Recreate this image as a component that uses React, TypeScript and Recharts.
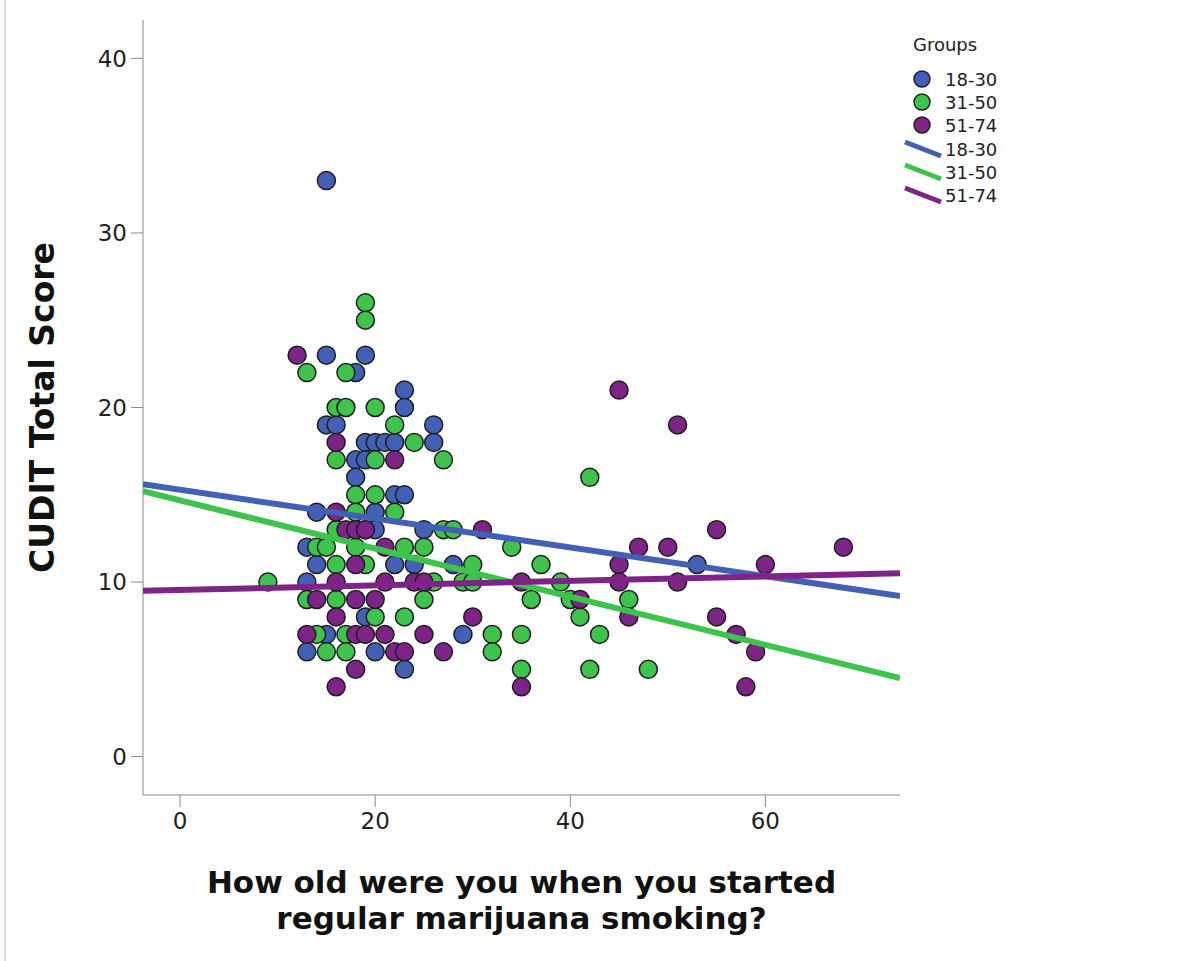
import React from 'react';
import { ScatterChart, Scatter, XAxis, YAxis } from 'recharts';

// age started regular smoking (x) vs CUDIT total score (y), per age group
const group1830 = [
  [15, 33], [15, 23], [19, 23], [18, 22], [23, 21], [23, 20], [15, 19], [16, 19], [26, 19],
  [19, 18], [20, 18], [21, 18], [22, 18], [26, 18], [18, 17], [19, 17], [18, 16], [22, 15],
  [23, 15], [14, 14], [20, 14], [19, 13], [20, 13], [25, 13], [13, 12], [14, 11], [22, 11],
  [24, 11], [28, 11], [13, 10], [19, 8], [15, 7], [29, 7], [13, 6], [20, 6], [23, 5], [53, 11],
].map(([x, y]) => ({ x, y }));

const group3150 = [
  [19, 26], [19, 25], [13, 22], [17, 22], [16, 20], [17, 20], [20, 20], [22, 19], [24, 18],
  [16, 17], [20, 17], [27, 17], [18, 15], [20, 15], [18, 14], [22, 14], [16, 13], [27, 13],
  [28, 13], [14, 12], [15, 12], [18, 12], [23, 12], [25, 12], [34, 12], [16, 11], [19, 11],
  [30, 11], [37, 11], [9, 10], [26, 10], [29, 10], [30, 10], [39, 10], [13, 9], [16, 9],
  [25, 9], [36, 9], [40, 9], [46, 9], [20, 8], [23, 8], [41, 8], [14, 7], [17, 7], [32, 7],
  [35, 7], [43, 7], [15, 6], [17, 6], [32, 6], [35, 5], [42, 5], [48, 5], [42, 16],
].map(([x, y]) => ({ x, y }));

const group5174 = [
  [12, 23], [16, 18], [22, 17], [16, 14], [17, 13], [18, 13], [19, 13], [18, 11], [21, 12],
  [16, 10], [21, 10], [24, 10], [25, 10], [14, 9], [18, 9], [20, 9], [16, 8], [13, 7],
  [18, 7], [19, 7], [21, 7], [25, 7], [22, 6], [23, 6], [27, 6], [18, 5], [16, 4], [45, 21],
  [51, 19], [31, 13], [47, 12], [50, 12], [45, 11], [35, 10], [45, 10], [51, 10], [41, 9],
  [46, 8], [30, 8], [35, 4], [55, 13], [68, 12], [60, 11], [55, 8], [57, 7], [59, 6], [58, 4],
].map(([x, y]) => ({ x, y }));

// fit line end points, read at the plot edges
const fit1830 = [{ x: -3.8, y: 15.6 }, { x: 73.8, y: 9.2 }];
const fit3150 = [{ x: -3.8, y: 15.2 }, { x: 73.8, y: 4.5 }];
const fit5174 = [{ x: -3.8, y: 9.5 }, { x: 73.8, y: 10.5 }];

const xTicks = [0, 20, 40, 60];
const yTicks = [0, 10, 20, 30, 40];
const groupNames = ['18-30', '31-50', '51-74'];

const BLUE = '#4160b6';
const GREEN = '#3ec44c';
const PURPLE = '#7e2487';
const FONT = '"DejaVu Sans", Verdana, sans-serif';

const dot = (fill: string) => (props: any) => (
  <circle cx={props.cx} cy={props.cy} r={9} fill={fill} stroke="#1e1e1e" strokeWidth={1.5} />
);
const noDot = () => <g />;

const LegendBox = () => {
  const cols = [BLUE, GREEN, PURPLE];
  return (
    <svg width={150} height={200} style={{ position: 'absolute', left: 903, top: 25, overflow: 'visible' }}>
      <text x={10} y={26} fontSize={18} fontFamily={FONT} fill="#222">Groups</text>
      {groupNames.map((g, i) => (
        <g key={'p' + g}>
          <circle cx={19} cy={54 + i * 23} r={8} fill={cols[i]} stroke="#1e1e1e" strokeWidth={1.5} />
          <text x={42} y={61 + i * 23} fontSize={18} fontFamily={FONT} fill="#222">{g}</text>
        </g>
      ))}
      {groupNames.map((g, i) => (
        <g key={'l' + g}>
          <line x1={2} y1={117 + i * 23} x2={38} y2={131 + i * 23} stroke={cols[i]} strokeWidth={5} />
          <text x={42} y={131 + i * 23} fontSize={18} fontFamily={FONT} fill="#222">{g}</text>
        </g>
      ))}
    </svg>
  );
};

const XTitle = (props: any) => {
  const vb = props.viewBox;
  const cx = vb.x + vb.width / 2;
  return (
    <text x={cx} y={vb.y + 98} textAnchor="middle" fontSize={31} fontWeight="bold" fontFamily={FONT} fill="#111">
      <tspan x={cx}>How old were you when you started</tspan>
      <tspan x={cx} dy={36}>regular marijuana smoking?</tspan>
    </text>
  );
};

const YTitle = (props: any) => {
  const vb = props.viewBox;
  const cy = vb.y + vb.height / 2;
  return (
    <text x={54} y={cy} transform={`rotate(-90 54 ${cy})`} textAnchor="middle" fontSize={33}
      fontWeight="bold" fontFamily={FONT} fill="#111">
      CUDIT Total Score
    </text>
  );
};

const App = () => (
  <div style={{ position: 'absolute', left: 0, top: 0, width: 1200, height: 961, background: '#fff' }}>
    <div style={{ position: 'absolute', left: 4, top: 0, width: 2, height: 961, background: '#d3ddef' }} />
    <ScatterChart width={1200} height={961} margin={{ top: 20, right: 300, bottom: 0, left: 0 }}>
      <XAxis type="number" dataKey="x" domain={[-3.8, 73.8]} ticks={xTicks} allowDataOverflow
        height={166} tickSize={12} tickMargin={6} stroke="#8a8a8a"
        tick={{ fontSize: 23, fontFamily: FONT, fill: '#222' }} label={<XTitle />} />
      <YAxis type="number" dataKey="y" domain={[-2.2, 42.2]} ticks={yTicks} allowDataOverflow
        width={143} tickSize={12} tickMargin={4} stroke="#8a8a8a"
        tick={{ fontSize: 23, fontFamily: FONT, fill: '#222' }} label={<YTitle />} />
      <Scatter name="18-30" data={group1830} shape={dot(BLUE)} isAnimationActive={false} legendType="none" />
      <Scatter name="31-50" data={group3150} shape={dot(GREEN)} isAnimationActive={false} legendType="none" />
      <Scatter name="51-74" data={group5174} shape={dot(PURPLE)} isAnimationActive={false} legendType="none" />
      <Scatter data={fit1830} line={{ stroke: BLUE, strokeWidth: 6 }} shape={noDot} isAnimationActive={false} legendType="none" />
      <Scatter data={fit3150} line={{ stroke: GREEN, strokeWidth: 6 }} shape={noDot} isAnimationActive={false} legendType="none" />
      <Scatter data={fit5174} line={{ stroke: PURPLE, strokeWidth: 6 }} shape={noDot} isAnimationActive={false} legendType="none" />
    </ScatterChart>
    <LegendBox />
  </div>
);

export default App;
